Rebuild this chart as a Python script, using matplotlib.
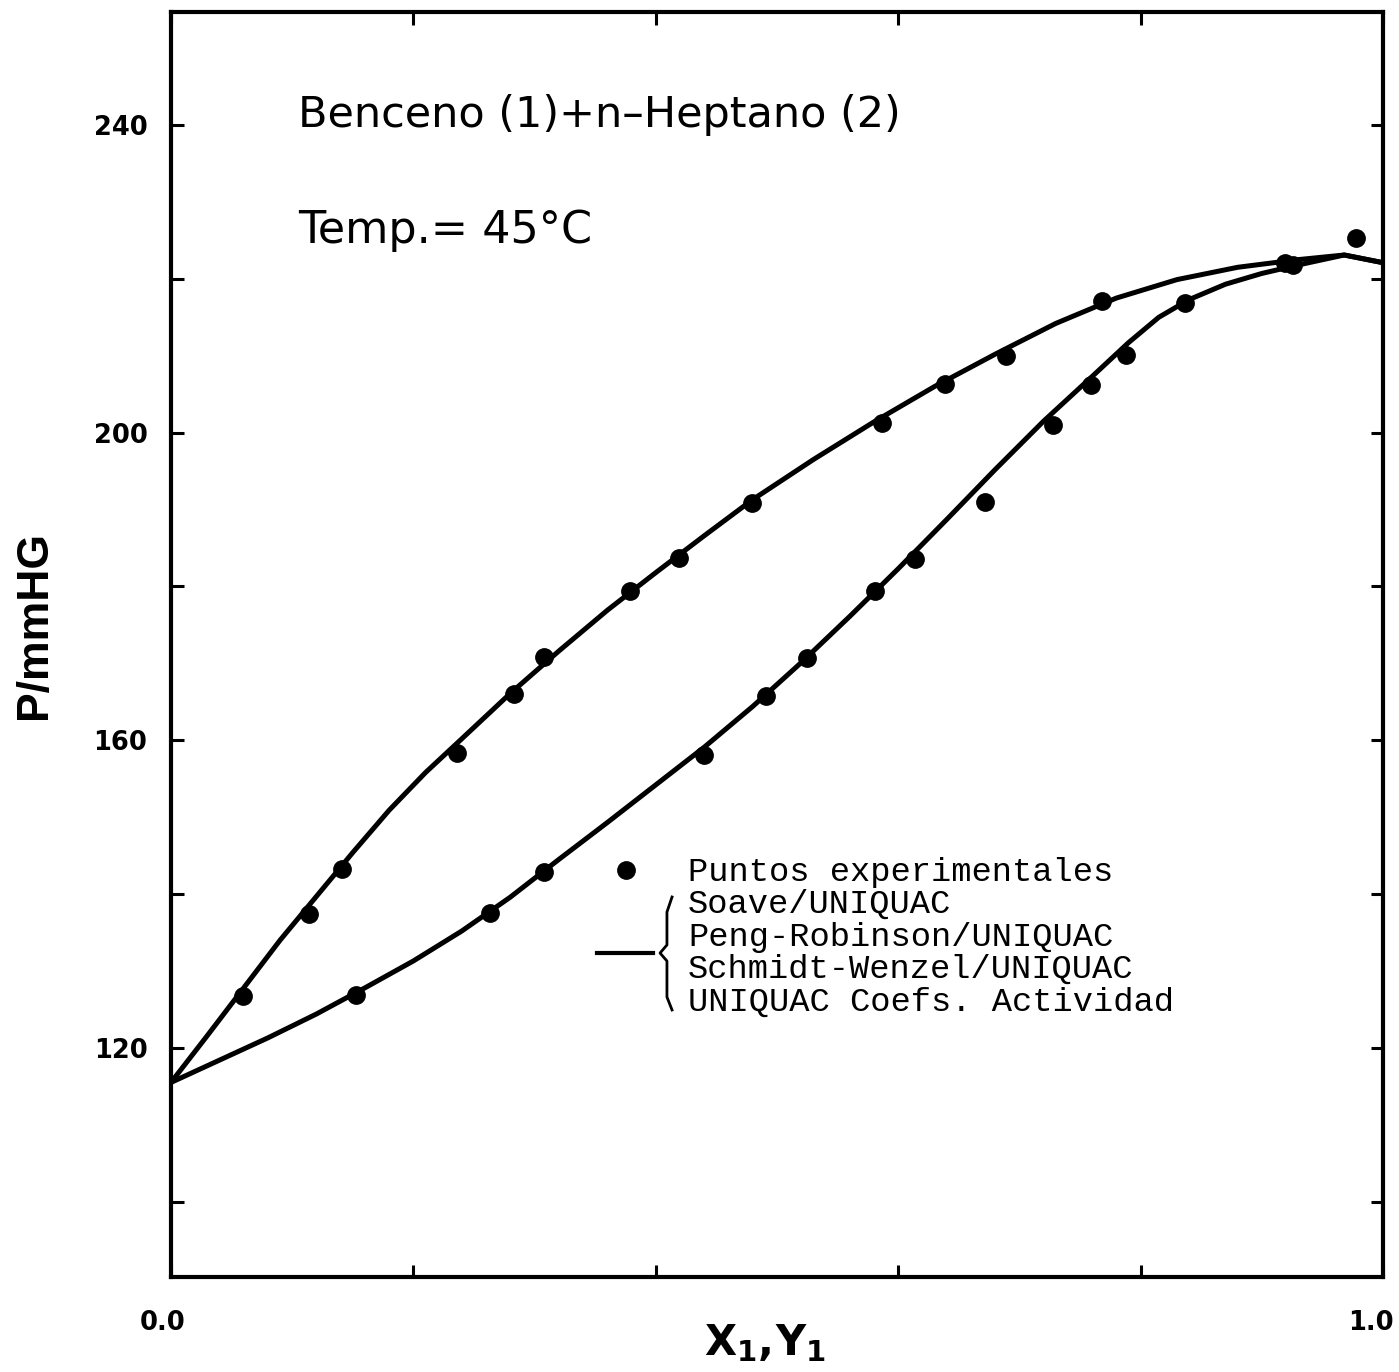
import matplotlib
matplotlib.use("Agg")
import matplotlib.pyplot as plt
from matplotlib.lines import Line2D
from matplotlib.transforms import ScaledTranslation

# experimental points (x1 -> upper curve, y1 -> lower curve)
x1_exp = [0.059, 0.114, 0.141, 0.236, 0.283, 0.308, 0.379, 0.419, 0.479,
          0.587, 0.639, 0.689, 0.768, 0.919, 0.978]
p_x1_exp = [126.8, 137.4, 143.3, 158.4, 166.0, 170.8, 179.4, 183.7, 190.9,
            201.3, 206.3, 210.0, 217.1, 222.1, 225.3]
y1_exp = [0.153, 0.263, 0.308, 0.440, 0.491, 0.525, 0.581, 0.614, 0.672,
          0.728, 0.759, 0.788, 0.837, 0.926]
p_y1_exp = [126.9, 137.5, 142.9, 158.1, 165.8, 170.7, 179.4, 183.6, 191.0,
            201.0, 206.2, 210.1, 216.9, 221.8]

# calculated curves
x_bub = [0.0, 0.03, 0.06, 0.09, 0.12, 0.15, 0.18, 0.21, 0.24, 0.28, 0.32,
         0.36, 0.40, 0.44, 0.48, 0.53, 0.58, 0.63, 0.68, 0.73, 0.78, 0.83,
         0.88, 0.93, 0.968, 1.0]
p_bub = [115.5, 121.6, 127.8, 134.0, 139.7, 145.4, 150.9, 155.8, 160.2,
         166.1, 171.6, 176.9, 181.8, 186.6, 191.3, 196.5, 201.4, 206.0,
         210.2, 214.2, 217.5, 219.9, 221.5, 222.5, 223.1, 222.1]
y_dew = [0.0, 0.04, 0.08, 0.12, 0.16, 0.20, 0.24, 0.28, 0.32, 0.36, 0.40,
         0.44, 0.48, 0.52, 0.56, 0.60, 0.64, 0.68, 0.72, 0.76, 0.79, 0.815,
         0.84, 0.87, 0.90, 0.93, 0.968, 1.0]
p_dew = [115.5, 118.4, 121.3, 124.4, 127.8, 131.3, 135.2, 139.6, 144.5,
         149.3, 154.2, 159.1, 164.4, 170.1, 176.1, 182.3, 188.7, 195.2,
         201.5, 207.3, 211.7, 215.0, 217.3, 219.3, 220.7, 221.8, 223.1, 222.1]

x_ticks = [0.0, 0.2, 0.4, 0.6, 0.8, 1.0]
x_ticklabels = ["0.0", "", "", "", "", "1.0"]
y_ticks = [100, 120, 140, 160, 180, 200, 220, 240]
y_ticklabels = ["", "120", "", "160", "", "200", "", "240"]

legend_lines = ["Puntos experimentales", "Soave/UNIQUAC",
                "Peng-Robinson/UNIQUAC", "Schmidt-Wenzel/UNIQUAC",
                "UNIQUAC Coefs. Actividad"]

W, H = 1399, 1372
fig = plt.figure(figsize=(W / 100, H / 100), dpi=100)
ax = fig.add_axes([171 / W, 95 / H, 1212 / W, 1265 / H])

ax.plot(x_bub, p_bub, color="black", lw=3.6, solid_joinstyle="round",
        solid_capstyle="round")
ax.plot(y_dew, p_dew, color="black", lw=3.6, solid_joinstyle="round",
        solid_capstyle="round")
ax.plot(x1_exp, p_x1_exp, "o", color="black", ms=12.5)
ax.plot(y1_exp, p_y1_exp, "o", color="black", ms=12.5)

ax.set_xlim(0, 1.0)
ax.set_ylim(90.2, 254.7)
ax.set_xticks(x_ticks)
ax.set_xticklabels(x_ticklabels)
ax.set_yticks(y_ticks)
ax.set_yticklabels(y_ticklabels)
for lab in ax.get_xticklabels() + ax.get_yticklabels():
    lab.set_fontfamily("DejaVu Sans")
    lab.set_fontweight("bold")
    lab.set_fontsize(18.5)
ax.tick_params(axis="both", direction="in", length=9, width=2.2,
               top=True, right=True)
ax.tick_params(axis="x", pad=24)
ax.tick_params(axis="y", pad=17)
for sp in ax.spines.values():
    sp.set_linewidth(3)

# keep the end labels inside the page
xl = ax.get_xticklabels()
xl[0].set_transform(xl[0].get_transform() + ScaledTranslation(-0.08, 0, fig.dpi_scale_trans))
xl[-1].set_transform(xl[-1].get_transform() + ScaledTranslation(-0.12, 0, fig.dpi_scale_trans))

# header text
ax.text(0.1048, 0.9091, "Benceno (1)+n\u2013Heptano (2)", transform=ax.transAxes,
        fontsize=31, family="DejaVu Sans", ha="left", va="baseline")
ax.text(0.1048, 0.8174, "Temp.= 45\u00b0C", transform=ax.transAxes,
        fontsize=32, family="DejaVu Sans", ha="left", va="baseline")

# hand made legend
base_y = [0.3130, 0.2877, 0.2617, 0.2364, 0.2103]
for txt, yb in zip(legend_lines, base_y):
    ax.text(0.4266, yb, txt, transform=ax.transAxes, fontsize=24.3,
            family="Liberation Mono", ha="left", va="baseline")
ax.plot([0.3754], [0.3217], "o", color="black", ms=12.5,
        transform=ax.transAxes, clip_on=False)
ax.add_line(Line2D([0.3515, 0.3977], [0.2561, 0.2561], color="black", lw=3,
                   transform=ax.transAxes))
brace_x = [0.4134, 0.4092, 0.4092, 0.4035, 0.4092, 0.4092, 0.4134]
brace_y = [0.3004, 0.2885, 0.2625, 0.2561, 0.2498, 0.2213, 0.2111]
ax.add_line(Line2D(brace_x, brace_y, color="black", lw=2,
                   transform=ax.transAxes))

# axis titles
fig.text(35 / W, 1 - 625 / H, "P/mmHG", rotation=90, ha="center", va="center",
         fontsize=32, fontweight="bold", family="Liberation Sans")
plt.rcParams["mathtext.fontset"] = "dejavusans"
fig.text(765 / W, 1 - 1355 / H, r"$\mathbf{X_1,\!Y_1}$", ha="center",
         va="baseline", fontsize=30)

fig.savefig("out.png", dpi=100, facecolor="white")
